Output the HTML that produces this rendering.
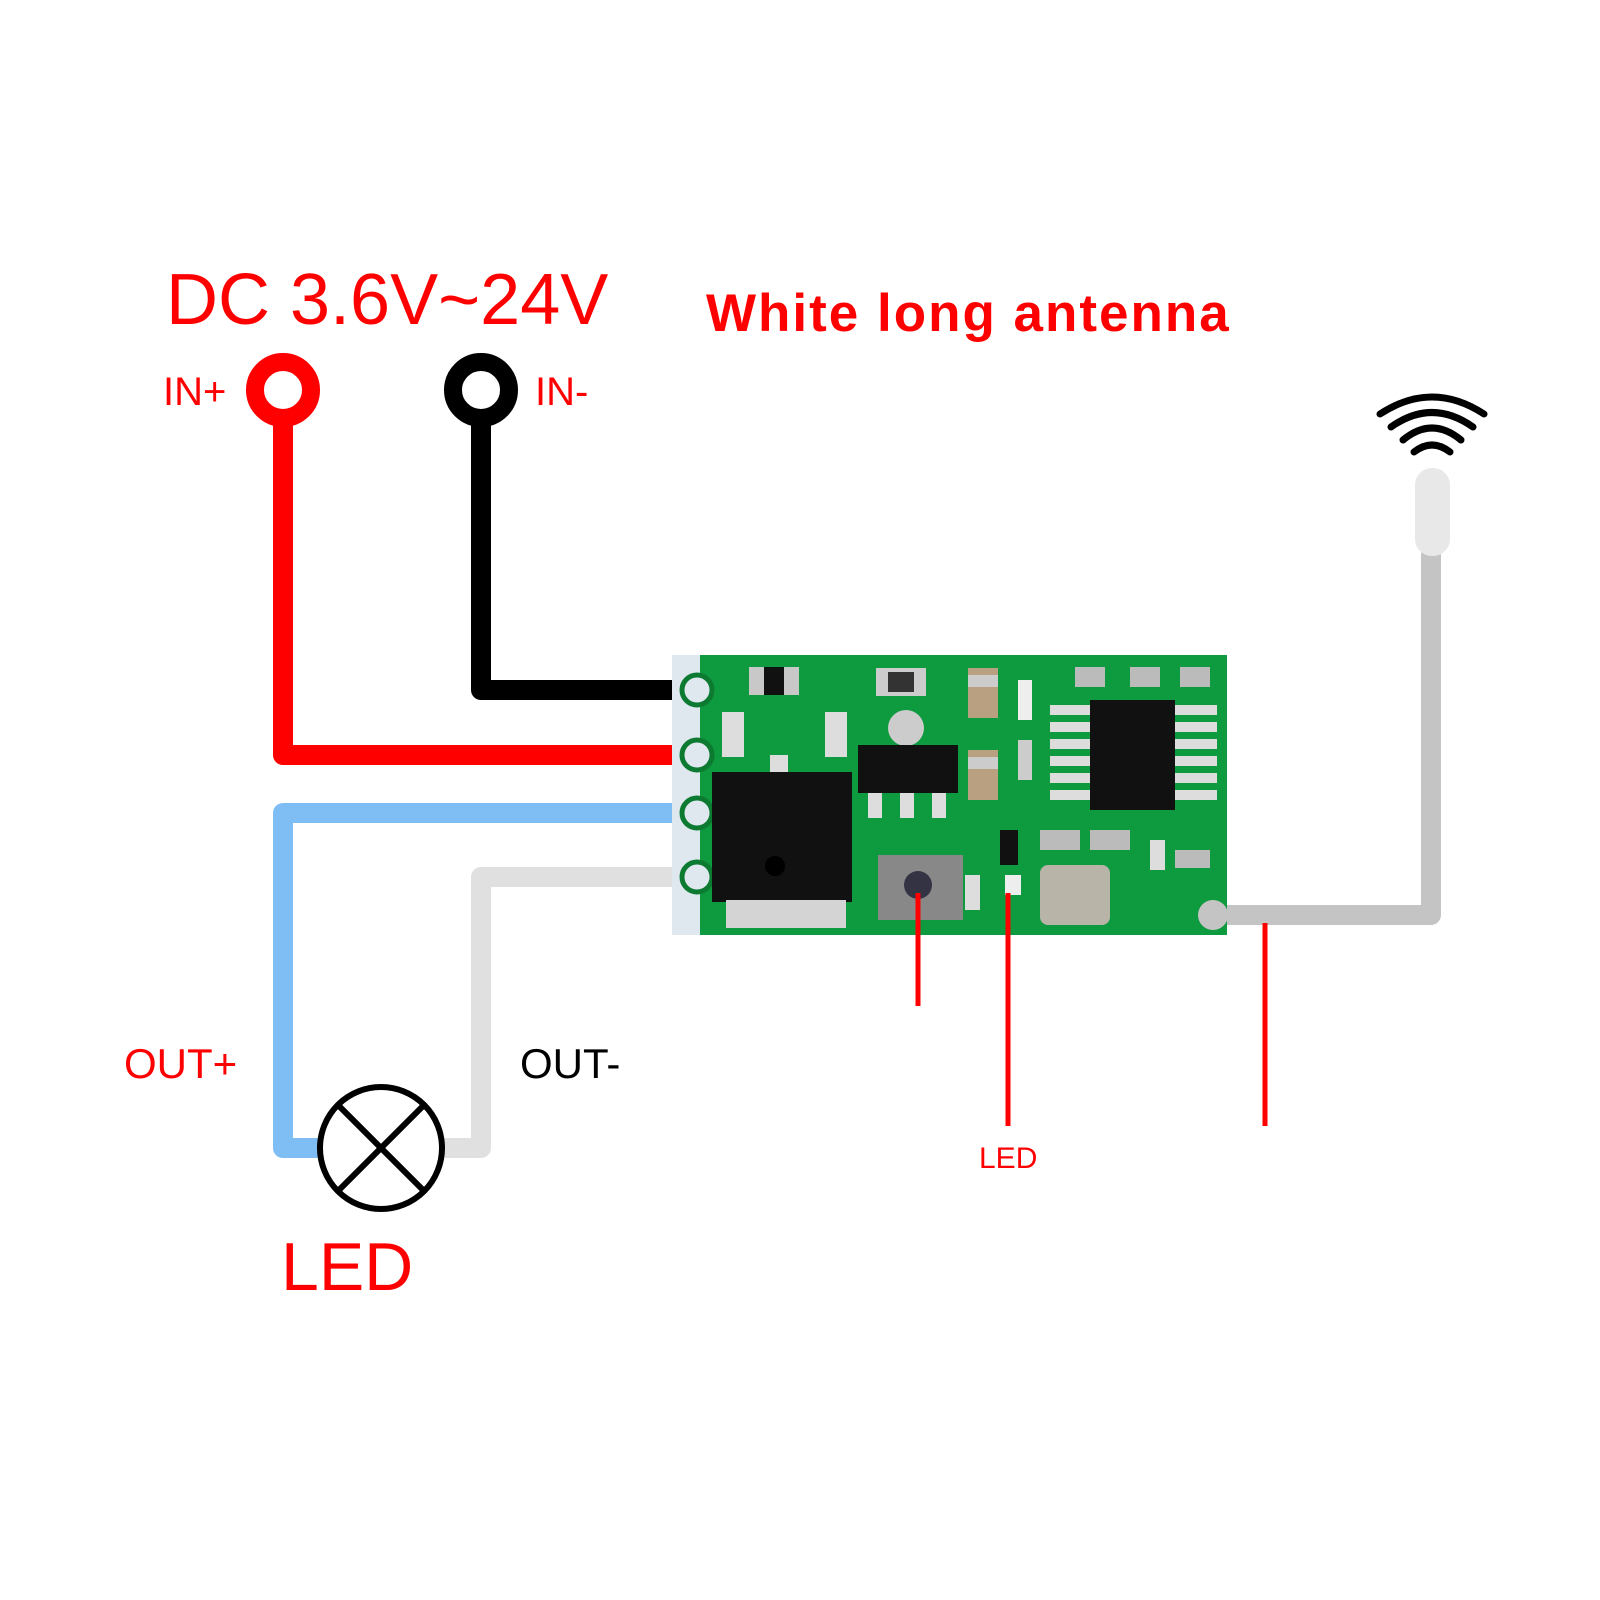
<!DOCTYPE html>
<html><head><meta charset="utf-8"><style>
html,body{margin:0;padding:0;background:#fff;}
svg{display:block;}
text{font-family:"Liberation Sans",sans-serif;}
</style></head><body>
<svg width="1600" height="1600" viewBox="0 0 1600 1600" xmlns="http://www.w3.org/2000/svg">
<rect width="1600" height="1600" fill="#fff"/>
<text x="166" y="324" font-size="72" fill="#f00">DC 3.6V~24V</text>
<text x="706" y="331" font-size="53" font-weight="bold" fill="#f00" letter-spacing="2">White long antenna</text>
<text x="163" y="405" font-size="40" fill="#f00">IN+</text>
<text x="535" y="405" font-size="40" fill="#f00">IN-</text>
<text x="124" y="1078" font-size="42" fill="#f00">OUT+</text>
<text x="520" y="1078" font-size="42" fill="#000">OUT-</text>
<text x="281" y="1290" font-size="68" fill="#f00">LED</text>
<text x="979" y="1168" font-size="30" fill="#f00">LED</text>

<g fill="none" stroke-linejoin="round" stroke-linecap="round" stroke-width="20">
<polyline points="283,420 283,755 700,755" stroke="#f00"/>
<polyline points="481,420 481,690 700,690" stroke="#000"/>
<polyline points="700,813 283,813 283,1148 322,1148" stroke="#7fbdf5"/>
<polyline points="700,877 481,877 481,1148 442,1148" stroke="#e0e0e0"/>
<polyline points="1209,915 1431,915 1431,555" stroke="#c4c4c4"/>
</g>
<circle cx="283" cy="390" r="28" fill="#fff" stroke="#f00" stroke-width="18"/>
<circle cx="481" cy="390" r="28" fill="#fff" stroke="#000" stroke-width="18"/>
<circle cx="283" cy="390" r="11" fill="#fff"/>
<circle cx="381" cy="1148" r="61" fill="#fff" stroke="#000" stroke-width="6"/>
<line x1="338" y1="1105" x2="424" y2="1191" stroke="#000" stroke-width="6"/>
<line x1="424" y1="1105" x2="338" y2="1191" stroke="#000" stroke-width="6"/>

<rect x="1415" y="468" width="35" height="88" rx="17" fill="#e8e8e8"/>
<g fill="none" stroke="#000" stroke-width="7" stroke-linecap="round">
<path d="M1414 452 Q1432 438 1450 452"/>
<path d="M1403 440 Q1432 416 1461 440"/>
<path d="M1391 427 Q1432 398 1473 427"/>
<path d="M1380 414 Q1432 380 1484 414"/>
</g>

<rect x="672" y="655" width="555" height="280" fill="#0e9a3e"/>
<rect x="672" y="655" width="28" height="280" fill="#dfe8ef"/>
<g fill="#dfe8ef" stroke="#0c7a30" stroke-width="5">
<circle cx="697" cy="690" r="15"/><circle cx="697" cy="755" r="15"/>
<circle cx="697" cy="813" r="15"/><circle cx="697" cy="877" r="15"/>
</g>
<circle cx="1213" cy="915" r="15" fill="#c4c4c4"/>
<rect x="749" y="667" width="50" height="28" fill="#c8c8c8"/><rect x="764" y="667" width="20" height="28" fill="#111"/>
<rect x="876" y="668" width="50" height="28" fill="#ccc"/><rect x="888" y="672" width="26" height="20" fill="#333"/>
<rect x="722" y="712" width="22" height="45" fill="#ddd"/><rect x="825" y="712" width="22" height="45" fill="#ddd"/>
<rect x="770" y="755" width="18" height="22" fill="#ddd"/>
<rect x="712" y="772" width="140" height="130" fill="#111"/>
<circle cx="775" cy="866" r="10" fill="#000"/>
<rect x="726" y="900" width="120" height="28" fill="#d4d4d4"/>
<circle cx="906" cy="728" r="18" fill="#ccc"/>
<rect x="858" y="745" width="100" height="48" fill="#111"/>
<rect x="868" y="793" width="14" height="25" fill="#ddd"/><rect x="900" y="793" width="14" height="25" fill="#ddd"/><rect x="932" y="793" width="14" height="25" fill="#ddd"/>
<rect x="968" y="668" width="30" height="50" fill="#b8a080"/><rect x="968" y="675" width="30" height="12" fill="#ccc"/>
<rect x="968" y="750" width="30" height="50" fill="#b8a080"/><rect x="968" y="757" width="30" height="12" fill="#ccc"/>
<rect x="1018" y="680" width="14" height="40" fill="#eee"/><rect x="1018" y="740" width="14" height="40" fill="#ccc"/>
<g fill="#ddd">
<rect x="1050" y="705" width="40" height="10"/><rect x="1050" y="722" width="40" height="10"/><rect x="1050" y="739" width="40" height="10"/><rect x="1050" y="756" width="40" height="10"/><rect x="1050" y="773" width="40" height="10"/><rect x="1050" y="790" width="40" height="10"/>
<rect x="1175" y="705" width="42" height="10"/><rect x="1175" y="722" width="42" height="10"/><rect x="1175" y="739" width="42" height="10"/><rect x="1175" y="756" width="42" height="10"/><rect x="1175" y="773" width="42" height="10"/><rect x="1175" y="790" width="42" height="10"/>
</g>
<rect x="1090" y="700" width="85" height="110" fill="#111"/>
<rect x="1075" y="667" width="30" height="20" fill="#bbb"/><rect x="1130" y="667" width="30" height="20" fill="#bbb"/><rect x="1180" y="667" width="30" height="20" fill="#bbb"/>
<rect x="878" y="855" width="85" height="65" fill="#888"/>
<circle cx="918" cy="885" r="14" fill="#334"/>
<rect x="965" y="875" width="15" height="35" fill="#ddd"/>
<rect x="1000" y="830" width="18" height="35" fill="#111"/>
<rect x="1005" y="875" width="16" height="20" fill="#eee"/>
<rect x="1040" y="865" width="70" height="60" rx="8" fill="#b8b4a8"/>
<rect x="1040" y="830" width="40" height="20" fill="#bbb"/><rect x="1090" y="830" width="40" height="20" fill="#bbb"/>
<rect x="1150" y="840" width="15" height="30" fill="#ddd"/><rect x="1175" y="850" width="35" height="18" fill="#bbb"/>

<g stroke="#f00" stroke-width="5">
<line x1="918" y1="893" x2="918" y2="1006"/>
<line x1="1008" y1="893" x2="1008" y2="1126"/>
<line x1="1265" y1="923" x2="1265" y2="1126"/>
</g>
</svg>
</body></html>
